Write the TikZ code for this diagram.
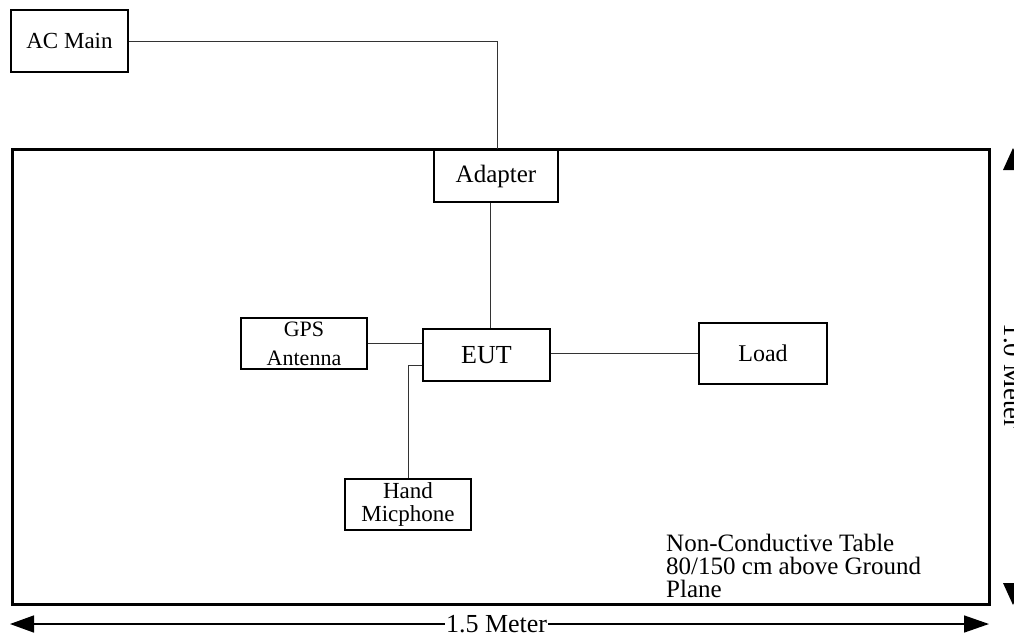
\documentclass[tikz,border=0pt]{standalone}
\usepackage{fontspec}
\setmainfont{Liberation Serif}
\usetikzlibrary{arrows.meta,calc}
\tikzset{
  box/.style={draw=black, line width=1.4pt, inner sep=0pt, align=center},
  wire/.style={draw=black!80, line width=0.9pt},
}
\begin{document}
\begin{tikzpicture}[x=1pt,y=-1pt]
\useasboundingbox (0,0) rectangle (1014,635);
\clip (0,0) rectangle (1014,635);
% table
\draw[line width=3pt] (12,149) rectangle (989,604);
% boxes
\node[box, minimum width=117pt, minimum height=62pt, font=\fontsize{23}{23}\selectfont] (acmain) at (69.5,41) {AC Main};
\node[box, fill=white, minimum width=124pt, minimum height=52pt, font=\fontsize{25}{25}\selectfont] (adapter) at (496,176) {Adapter};
\node[box, minimum width=127pt, minimum height=52pt, font=\fontsize{26}{26}\selectfont] (eut) at (486.5,355) {EUT};
\node[box, minimum width=126pt, minimum height=51pt, font=\fontsize{22}{29}\selectfont] (gps) at (304,343.5) {GPS\\Antenna};
\node[box, minimum width=126pt, minimum height=51pt, font=\fontsize{23}{23}\selectfont] (hand) at (408,504.5) {Hand\\Micphone};
\node[box, minimum width=128pt, minimum height=61pt, font=\fontsize{24}{24}\selectfont] (load) at (763,353.5) {Load};
% connectors
\draw[wire] (acmain.east) -| ([xshift=1pt]adapter.north);
\draw[wire] ([xshift=-6pt]adapter.south) -- ([xshift=-6pt]adapter.south |- eut.north);
\draw[wire] (gps.east) -- (gps.east -| eut.west);
\draw[wire] (hand.north) |- ([yshift=-10pt]eut.west);
\draw[wire] ([yshift=2pt]eut.east) -- ([yshift=2pt]eut.east -| load.west);
% table label
\node[anchor=north west, inner sep=0pt, align=left, font=\fontsize{25}{23}\selectfont] (tablelbl) at (666,534) {Non-Conductive Table\\80/150 cm above Ground\\Plane};
% width dimension
\coordinate (wl) at (10,624);
\coordinate (wr) at (989,624);
\draw[line width=1.5pt, {Triangle[length=24pt,width=17pt]}-{Triangle[length=25pt,width=17pt]}] (wl) -- (wr)
  node[pos=0.497, fill=white, inner sep=1pt, font=\fontsize{26}{26}\selectfont] (wlbl) {1.5 Meter};
% height dimension (only arrowheads visible)
\coordinate (ht) at (1013,148);
\coordinate (hb) at (1013,605);
\fill (ht) -- ++(-10,22) -- ++(20,0) -- cycle;
\fill (hb) -- ++(-10,-22) -- ++(20,0) -- cycle;
\node[rotate=-90, anchor=base, inner sep=0pt, font=\fontsize{27}{27}\selectfont] (hlbl) at (1004,376) {1.0 Meter};
\end{tikzpicture}
\end{document}
